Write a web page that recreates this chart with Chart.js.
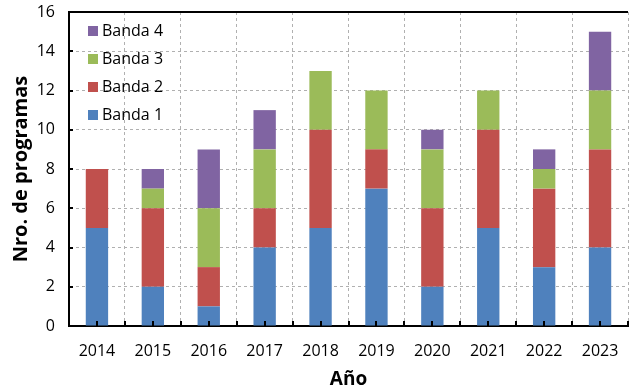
<!DOCTYPE html>
<html>
<head>
<meta charset="utf-8">
<script src="https://cdn.jsdelivr.net/npm/chart.js@4"></script>
<style>
  html, body { margin: 0; padding: 0; background: #fff; }
  #wrap { width: 629px; height: 391px; position: relative; }
</style>
</head>
<body>
<div id="wrap"><canvas id="chart"></canvas></div>
<script>
// Data
const years = ['2014', '2015', '2016', '2017', '2018', '2019', '2020', '2021', '2022', '2023'];
const banda1 = [5, 2, 1, 4, 5, 7, 2, 5, 3, 4];
const banda2 = [3, 4, 2, 2, 5, 2, 4, 5, 4, 5];
const banda3 = [0, 1, 3, 3, 3, 3, 3, 2, 1, 3];
const banda4 = [0, 1, 3, 2, 0, 0, 1, 0, 1, 3];
const seriesNames = ['Banda 1', 'Banda 2', 'Banda 3', 'Banda 4'];
const seriesColors = ['#4F81BD', '#C0504D', '#9BBB59', '#8064A2'];

const FONT = "'Open Sans', 'Liberation Sans', sans-serif";

// Frame top line, inward tick marks and the legend inside the plot area
const insideLegend = {
    id: 'insideLegend',
    afterDraw(chart) {
        const ctx = chart.ctx;
        const area = chart.chartArea;
        const xs = chart.scales.x;
        const ys = chart.scales.y;
        ctx.save();
        ctx.strokeStyle = '#000';
        ctx.lineWidth = 2;
        ctx.beginPath();
        ctx.moveTo(area.left, area.top);
        ctx.lineTo(area.right, area.top);
        // y tick marks
        ys.ticks.forEach(t => {
            const y = Math.round(ys.getPixelForValue(t.value));
            ctx.moveTo(area.left, y);
            ctx.lineTo(area.left + 4, y);
        });
        // x tick marks at centres and boundaries
        const half = (xs.getPixelForValue(1) - xs.getPixelForValue(0)) / 2;
        years.forEach((_, i) => {
            const c = Math.round(xs.getPixelForValue(i));
            ctx.moveTo(c, area.bottom);
            ctx.lineTo(c, area.bottom - 5);
            const b = Math.round(xs.getPixelForValue(i) + half);
            ctx.moveTo(b, area.bottom);
            ctx.lineTo(b, area.bottom - 5);
        });
        ctx.stroke();

        ctx.font = '16px ' + FONT;
        ctx.textBaseline = 'middle';
        const items = chart.data.datasets.slice().reverse();
        items.forEach((ds, i) => {
            const y = area.top + 19 + i * 28;
            ctx.fillStyle = ds.backgroundColor;
            ctx.fillRect(area.left + 19, y - 5, 10, 10);
            ctx.fillStyle = '#000';
            ctx.fillText(ds.label, area.left + 33, y);
        });
        ctx.restore();
    }
};

const datasets = [banda1, banda2, banda3, banda4].map((values, i) => ({
    label: seriesNames[i],
    data: values,
    backgroundColor: seriesColors[i],
    borderWidth: 0,
    barPercentage: 0.4,
    categoryPercentage: 1.0
}));

new Chart(document.getElementById('chart').getContext('2d'), {
    type: 'bar',
    data: { labels: years, datasets: datasets },
    options: {
        responsive: true,
        maintainAspectRatio: false,
        animation: false,
        layout: { padding: { top: 12, right: 1, left: 0, bottom: 0 } },
        plugins: {
            legend: { display: false },
            tooltip: { enabled: false }
        },
        scales: {
            x: {
                stacked: true,
                grid: { color: '#b0b0b0', drawTicks: false, offset: true },
                border: { color: '#000', width: 2, dash: [3, 3] },
                ticks: { color: '#000', padding: 16, font: { family: FONT, size: 16 } },
                title: {
                    display: true, text: 'Año', color: '#000',
                    font: { family: FONT, size: 19, weight: 'bold' }, padding: { top: 2, bottom: 0 }
                },
                afterFit(scale) {
                    scale.height = 65;
                    scale.paddingLeft = 0;
                    scale.paddingRight = 0;
                }
            },
            y: {
                stacked: true,
                min: 0, max: 16,
                grid: { color: '#b0b0b0', drawTicks: false },
                border: { color: '#000', width: 2, dash: [3, 3] },
                ticks: { stepSize: 2, color: '#000', padding: 14, font: { family: FONT, size: 16 } },
                title: {
                    display: true, text: 'Nro. de programas', color: '#000',
                    font: { family: FONT, size: 20, weight: 'bold' }, padding: { top: 9, bottom: 0 }
                },
                afterFit(scale) {
                    scale.width = 69;
                    scale.paddingTop = 0;
                    scale.paddingBottom = 0;
                }
            }
        }
    },
    plugins: [insideLegend]
});
</script>
</body>
</html>
